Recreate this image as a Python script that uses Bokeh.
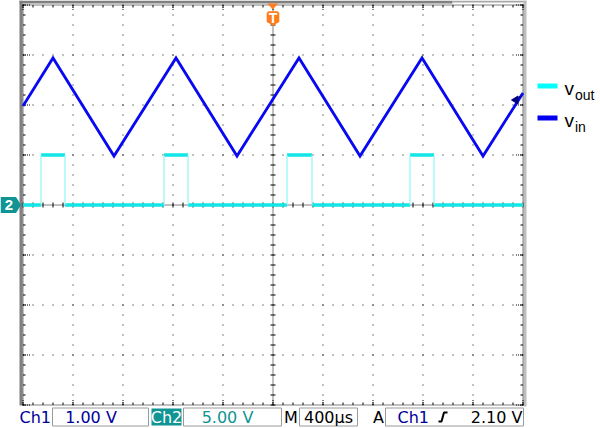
import numpy as np
from bokeh.plotting import figure
from bokeh.models import Range1d, Label
from bokeh.embed import file_html
from bokeh.resources import INLINE

# ---------------- data ----------------
# Ch1: v_in, triangle wave, vertices (time in microseconds, volts)
vin_t_us = [-2000, -1760, -1272, -776, -288, 208, 696, 1192, 1680, 2000]
vin_volts = [1.98, 2.94, 0.98, 2.94, 0.98, 2.94, 0.98, 2.94, 0.98, 2.24]
# Ch2: v_out, comparator output, level held from each time to the next
vout_t_us = [-2000, -1856, -1664, -872, -680, 112, 312, 1096, 1288, 2000]
vout_volts = [0, 5, 0, 5, 0, 5, 0, 5, 0, 0]

ch1_volts_per_div = 1.00
ch2_volts_per_div = 5.00
time_per_div_us = 400
trigger_level_v = 2.10
n_hdiv = 10
n_vdiv = 8

status_ch1_label = "Ch1"
status_ch1_scale = "1.00 V"
status_ch2_label = "Ch2"
status_ch2_scale = "5.00 V"
status_m_label = "M"
status_time_scale = "400µs"
status_a_label = "A"
status_trig_src = "Ch1"
status_trig_level = "2.10 V"
legend_main = ["v", "v"]
legend_sub = ["out", "in"]

# ---------------- colours ----------------
BLUE = "#0808f2"
CYAN = "#12e6e6"
NAVY = "#000099"
TEAL = "#109494"
ORANGE = "#ff7d1a"
SANS = "Liberation Sans"
SCOPE = "DejaVu Sans"

# ---------------- pixel helpers (decoration placement) ----------------
US_PER_PX = time_per_div_us / 50.0
DIV_PER_PX = 1 / 50.0


def X(px):
    return (px - 272.5) * US_PER_PX


def Y(py):
    return (204.5 - py) * DIV_PER_PX


W, H = 600, 428
p = figure(width=W, height=H, output_backend="svg", toolbar_location=None,
           x_range=Range1d(X(0), X(W)), y_range=Range1d(Y(H), Y(0)),
           x_axis_type=None, y_axis_type=None, min_border=0,
           outline_line_color=None, background_fill_color="white",
           border_fill_color="white")
p.grid.visible = False


def label(x, y, text, color="black", size="16px", align="left", baseline="middle",
          font=SANS, style="normal"):
    p.add_layout(Label(x=x, y=y, text=text, text_color=color, text_font=font,
                       text_font_size=size, text_align=align, text_baseline=baseline,
                       text_font_style=style))


half_t = n_hdiv / 2 * time_per_div_us
half_v = n_vdiv / 2
t_left, t_right = -half_t, half_t

# ---- grid (dotted) ----
vgrid = [k * time_per_div_us for k in range(-4, 5) if k != 0]
hgrid = [k for k in range(-3, 4) if k != 0]
p.segment(x0=vgrid, y0=[Y(4)] * len(vgrid), x1=vgrid, y1=[Y(405)] * len(vgrid),
          line_color="black", line_width=1, line_dash="1 9")
p.segment(x0=[X(22)] * len(hgrid), y0=hgrid, x1=[X(523)] * len(hgrid), y1=hgrid,
          line_color="black", line_width=1, line_dash="1 9")

# ---- centre lines with crossing ticks ----
p.segment(x0=[0], y0=[Y(4)], x1=[0], y1=[Y(405)], line_color="black", line_width=1, line_dash="1 1")
p.segment(x0=[X(22)], y0=[0], x1=[X(523)], y1=[0], line_color="black", line_width=1, line_dash="1 1")
minor_t = np.arange(t_left, t_right + 1, time_per_div_us / 5)
minor_v = np.arange(-half_v, half_v + 0.001, 0.2)
p.segment(x0=minor_t, y0=np.full(len(minor_t), 2 * DIV_PER_PX + 0.01),
          x1=minor_t, y1=np.full(len(minor_t), -2 * DIV_PER_PX - 0.01), line_color="black", line_width=1)
p.segment(x0=np.full(len(minor_v), -2.5 * US_PER_PX), y0=minor_v,
          x1=np.full(len(minor_v), 2.5 * US_PER_PX), y1=minor_v, line_color="black", line_width=1)

# ---- border ----
p.quad(left=[X(19)], right=[X(22)], top=[Y(0)], bottom=[Y(405)], fill_color="#808080", line_color=None)
p.quad(left=[X(19)], right=[X(452)], top=[Y(0)], bottom=[Y(3)], fill_color="#808080", line_color=None)
p.quad(left=[X(452)], right=[X(526)], top=[Y(0)], bottom=[Y(2)], fill_color="#a8a8a8", line_color=None)
p.quad(left=[X(523)], right=[X(526)], top=[Y(0)], bottom=[Y(406)], fill_color="#bdbdbd", line_color=None)
p.segment(x0=[t_left, t_right, X(22), X(22)], y0=[Y(4), Y(4), -half_v, half_v],
          x1=[t_left, t_right, X(523), X(523)], y1=[Y(405), Y(405), -half_v, half_v],
          line_color="black", line_width=1, line_dash="1 1")
major_t = [k * time_per_div_us for k in range(-5, 6)]
major_v = list(range(-4, 5))
for edge, sgn in ((-half_v, 1), (half_v, -1)):
    p.segment(x0=minor_t, y0=np.full(len(minor_t), edge), x1=minor_t,
              y1=np.full(len(minor_t), edge + sgn * 2.5 * DIV_PER_PX), line_color="black", line_width=1)
    p.segment(x0=major_t, y0=[edge] * len(major_t), x1=major_t,
              y1=[edge + sgn * 6 * DIV_PER_PX] * len(major_t),
              line_color="black", line_width=1, line_dash="1 1")
for edge, sgn in ((t_left, 1), (t_right, -1)):
    p.segment(x0=np.full(len(minor_v), edge), y0=minor_v, x1=np.full(len(minor_v), edge + sgn * 2.5 * US_PER_PX),
              y1=minor_v, line_color="black", line_width=1)
    p.segment(x0=[edge] * len(major_v), y0=major_v, x1=[edge + sgn * 8 * US_PER_PX] * len(major_v), y1=major_v,
              line_color="black", line_width=1, line_dash="1 1")

# ---- waveforms ----
vout_div = [v / ch2_volts_per_div for v in vout_volts]
p.segment(x0=vout_t_us[:-1], y0=vout_div[:-1], x1=vout_t_us[1:], y1=vout_div[:-1],
          line_color=CYAN, line_width=3.4)
edge_idx = [i for i in range(1, len(vout_t_us) - 1) if vout_div[i] != vout_div[i - 1]]
p.segment(x0=[vout_t_us[i] for i in edge_idx], y0=[vout_div[i - 1] for i in edge_idx],
          x1=[vout_t_us[i] for i in edge_idx], y1=[vout_div[i] for i in edge_idx],
          line_color="#8ff5f5", line_width=1.2)

vin_div = [v / ch1_volts_per_div for v in vin_volts]
p.line(vin_t_us, vin_div, line_color=BLUE, line_width=2.8, line_join="miter")

# ---- trigger position marker (T) ----
p.patch(x=[X(267), X(277.5), X(272.3)], y=[Y(3), Y(3), Y(9)], fill_color=ORANGE, line_color=None)
p.patch(x=[X(266.2), X(267.8), X(277.2), X(278.8), X(278.8), X(275.5), X(272.5), X(269.5), X(266.2)],
        y=[Y(12.5), Y(10.8), Y(10.8), Y(12.5), Y(21.5), Y(23.2), Y(25.8), Y(23.2), Y(21.5)],
        fill_color=ORANGE, line_color=None)
label(X(272.6), Y(17.8), "T", color="white", size="14px", align="center", style="bold")

# ---- Ch2 ground marker ----
p.patch(x=[X(0), X(15.5), X(20.5), X(15.5), X(0)], y=[Y(196.5), Y(196.5), Y(204.5), Y(212.5), Y(212.5)],
        fill_color=TEAL, line_color=None)
label(X(8.5), Y(204.5), "2", color="white", size="15px", align="center", style="bold")

# ---- trigger level marker (Ch1, left-pointing arrow at the 2.10 V level) ----
trig_div = trigger_level_v / ch1_volts_per_div
p.patch(x=[X(511), X(517.5), X(517.5)],
        y=[trig_div, trig_div + 4 * DIV_PER_PX, trig_div - 4 * DIV_PER_PX],
        fill_color="#000080", line_color="#000080", line_width=1)
p.segment(x0=[X(516)], y0=[trig_div], x1=[X(520)], y1=[trig_div + 4 * DIV_PER_PX],
          line_color="#000080", line_width=1.5)

# ---- legend ----
p.quad(left=[X(537)] * 2, right=[X(557)] * 2, top=[Y(83), Y(115)], bottom=[Y(88), Y(120)],
       fill_color=["#00ffff", "#0000ee"], line_color=None)
for i, (main, sub) in enumerate(zip(legend_main, legend_sub)):
    label(X(564), Y(88 + 32 * i), main, size="19px", baseline="alphabetic")
    label(X(574.5), Y(94 + 32 * i), sub, size="14px", baseline="alphabetic")

# ---- status bar ----
p.quad(left=[X(52), X(183), X(299), X(385)], right=[X(148), X(281), X(357), X(523)],
       top=[Y(407.5)] * 4, bottom=[Y(425.5)] * 4, fill_color="white", line_color="#9a9a9a", line_width=1)
p.quad(left=[X(151)], right=[X(181)], top=[Y(408)], bottom=[Y(425)], fill_color=TEAL, line_color=None)

mid = Y(416.5)
label(X(19), mid, status_ch1_label, color=NAVY, font=SCOPE)
label(X(90.5), mid, status_ch1_scale, color=NAVY, align="center", font=SCOPE)
label(X(166), mid, status_ch2_label, color="white", align="center", font=SCOPE)
label(X(227), mid, status_ch2_scale, color=TEAL, align="center", font=SCOPE)
label(X(283.5), mid, status_m_label, font=SCOPE)
label(X(328), mid, status_time_scale, align="center", font=SCOPE)
label(X(372.5), mid, status_a_label, font=SCOPE)
label(X(397), mid, status_trig_src, color=NAVY, font=SCOPE)
label(X(522), mid, status_trig_level, align="right", font=SCOPE)
# rising-edge symbol
p.line(x=[X(438), X(441), X(443.5), X(447)], y=[Y(421), Y(421), Y(412), Y(412)],
       line_color="black", line_width=2)

open("out.html", "w").write(file_html(p, INLINE))
